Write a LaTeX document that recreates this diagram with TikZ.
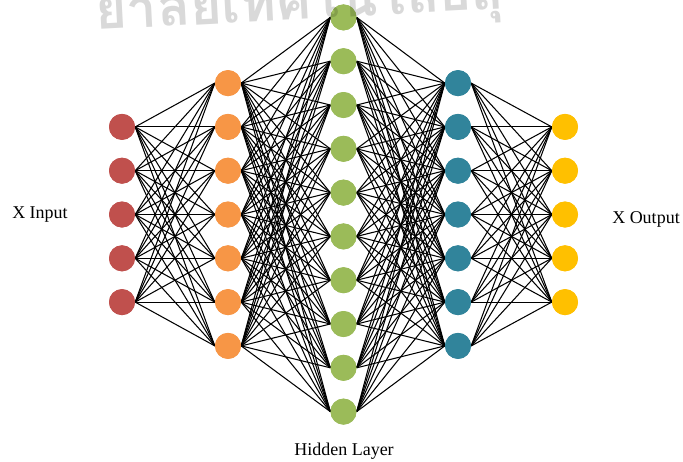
\documentclass[tikz,border=0pt]{standalone}
\usepackage{fontspec}
\setmainfont{Liberation Serif}
\newfontfamily\thaifont[Script=Thai]{Loma}
\definecolor{inred}{HTML}{C0504D}
\definecolor{hidorange}{HTML}{F79646}
\definecolor{hidgreen}{HTML}{9BBB59}
\definecolor{hidteal}{HTML}{31849B}
\definecolor{outyellow}{HTML}{FFC000}
\tikzset{
  neuron/.style={circle, minimum size=26pt, inner sep=0pt, draw=none},
  link/.style={draw=black, line width=1.05pt},
  lbl/.style={font=\fontsize{18}{20}\selectfont, inner sep=0pt},
  wmark/.style={font=\thaifont\bfseries\fontsize{54}{56}\selectfont, text=black, text opacity=0.15, inner sep=0pt}
}
\begin{document}
\begin{tikzpicture}[x=1pt, y=-1pt]
\useasboundingbox (0,0) rectangle (683,461);
\fill[white] (0,0) rectangle (683,461);
% vertical centre and spacing of the neurons
\def\cy{214.5}
\def\gap{43.8}
% input layer
\foreach \i in {1,...,5} {
  \node[neuron, fill=inred] (a\i) at (122, {\cy + (\i-3)*\gap}) {};
}
% first hidden layer
\foreach \i in {1,...,7} {
  \node[neuron, fill=hidorange] (b\i) at (228, {\cy + (\i-4)*\gap}) {};
}
% middle hidden layer
\foreach \i in {1,...,10} {
  \node[neuron, fill=hidgreen] (c\i) at (343.5, {\cy + (\i-5.5)*\gap}) {};
}
% third hidden layer
\foreach \i in {1,...,7} {
  \node[neuron, fill=hidteal] (d\i) at (458, {\cy + (\i-4)*\gap}) {};
}
% output layer
\foreach \i in {1,...,5} {
  \node[neuron, fill=outyellow] (e\i) at (565, {\cy + (\i-3)*\gap}) {};
}
% full connections between neighbouring layers
\foreach \i in {1,...,5} \foreach \j in {1,...,7} \draw[link] (a\i.east) -- (b\j.west);
\foreach \i in {1,...,7} \foreach \j in {1,...,10} \draw[link] (b\i.east) -- (c\j.west);
\foreach \i in {1,...,10} \foreach \j in {1,...,7} \draw[link] (c\i.east) -- (d\j.west);
\foreach \i in {1,...,7} \foreach \j in {1,...,5} \draw[link] (d\i.east) -- (e\j.west);
% redraw neurons over the connections
\foreach \i in {1,...,5} \fill[inred] (a\i) circle (13);
\foreach \i in {1,...,7} \fill[hidorange] (b\i) circle (13);
\foreach \i in {1,...,10} \fill[hidgreen] (c\i) circle (13);
\foreach \i in {1,...,7} \fill[hidteal] (d\i) circle (13);
\foreach \i in {1,...,5} \fill[outyellow] (e\i) circle (13);
% labels
\node[lbl] (inlbl) at (40, 215) {X Input};
\node[lbl] (outlbl) at (646, 219) {X Output};
\node[lbl] (hidlbl) at (344, 451) {Hidden Layer};
% watermark
\begin{scope}
\clip (0,0) rectangle (683,461);
\node[wmark, anchor=base west, rotate=3] (wm) at (96, 30) {ยาลัยเทคโนโลยีสุ};
\end{scope}
\end{tikzpicture}
\end{document}
